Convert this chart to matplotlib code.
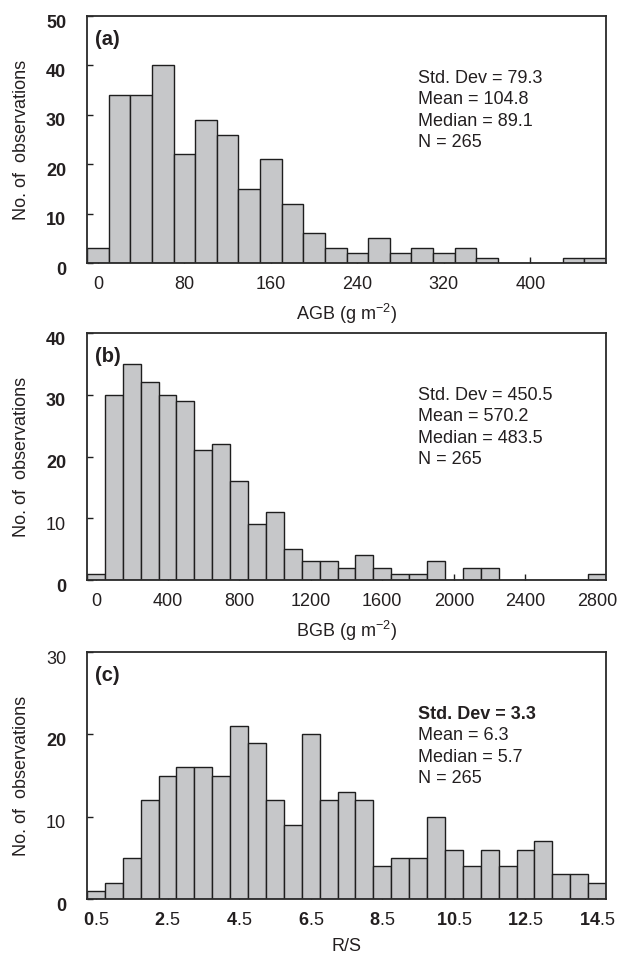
import numpy as np
import matplotlib.pyplot as plt
import matplotlib.transforms as mtransforms

# ------------------------------------------------------------
# Histogram data (counts per bin)
# ------------------------------------------------------------
agb_start, agb_width = 0, 20          # first bin centre, bin width (g m-2)
agb_counts = [3, 34, 34, 40, 22, 29, 26, 15, 21, 12, 6, 3,
              2, 5, 2, 3, 2, 3, 1, 0, 0, 0, 1, 1]
agb_ticks = [0, 80, 160, 240, 320, 400]
agb_stats = ["Std. Dev = 79.3", "Mean = 104.8", "Median = 89.1", "N = 265"]

bgb_start, bgb_width = 0, 100
bgb_counts = [1, 30, 35, 32, 30, 29, 21, 22, 16, 9, 11, 5, 3, 3,
              2, 4, 2, 1, 1, 3, 0, 2, 2, 0, 0, 0, 0, 0, 1]
bgb_ticks = [0, 400, 800, 1200, 1600, 2000, 2400, 2800]
bgb_stats = ["Std. Dev = 450.5", "Mean = 570.2", "Median = 483.5", "N = 265"]

rs_start, rs_width = 0.5, 0.5
rs_counts = [1, 2, 5, 12, 15, 16, 16, 15, 21, 19, 12, 9, 20, 12, 13,
             12, 4, 5, 5, 10, 6, 4, 6, 4, 6, 7, 3, 3, 2]
rs_ticks = [0.5, 2.5, 4.5, 6.5, 8.5, 10.5, 12.5, 14.5]
rs_tick_labels = [r'$\mathbf{0}$.5', r'$\mathbf{2}$.5', r'$\mathbf{4}$.5',
                  r'$\mathbf{6}$.5', r'$\mathbf{8}$.5', r'$\mathbf{10}$.5',
                  r'$\mathbf{12}$.5', r'$\mathbf{14}$.5']
rs_stats = ["Std. Dev = 3.3", "Mean = 6.3", "Median = 5.7", "N = 265"]

plt.rcParams['font.family'] = ['Liberation Sans', 'DejaVu Sans']
plt.rcParams['mathtext.fontset'] = 'custom'
plt.rcParams['mathtext.rm'] = 'Liberation Sans'
plt.rcParams['mathtext.it'] = 'Liberation Sans:italic'
plt.rcParams['mathtext.bf'] = 'Liberation Sans:bold'

TXT = '#231f20'
FILL = '#c6c7c9'
EDGE = '#1e1e1e'

W, H = 620, 955
fig = plt.figure(figsize=(W / 100, H / 100), dpi=100)
down = mtransforms.ScaledTranslation(0, -5 / 100, fig.dpi_scale_trans)


def px_axes(left, top, right, bottom):
    return fig.add_axes([left / W, 1 - bottom / H, (right - left) / W, (bottom - top) / H])


def panel(ax, start, width, counts, ticks, ymax, ystep, xlabel, tag, stats,
          bold_first=False, ybold=()):
    n = len(counts)
    centres = start + width * np.arange(n)
    ax.bar(centres, counts, width=width, color=FILL, edgecolor=EDGE,
           linewidth=1.0, zorder=2)
    ax.set_xlim(start - width / 2, start + width * (n - 0.5))
    ax.set_ylim(0, ymax)
    ax.set_xticks(ticks)
    ax.set_yticks(np.arange(0, ymax + 1, ystep))
    ax.tick_params(direction='in', length=4, width=1.0, color=EDGE,
                   labelsize=13, labelcolor=TXT, top=False, right=False)
    ax.tick_params(axis='x', pad=9)
    ax.tick_params(axis='y', pad=15)
    for lab, val in zip(ax.get_yticklabels(), ax.get_yticks()):
        lab.set_transform(lab.get_transform() + down)
        if int(val) in ybold:
            lab.set_fontweight('bold')
    for s in ax.spines.values():
        s.set_linewidth(1.3)
        s.set_color('#2a2a2a')
    ax.set_xlabel(xlabel, fontsize=13, color=TXT)
    ax.set_ylabel('No. of  observations', fontsize=13, color=TXT)
    h = ax.get_window_extent().height
    w = ax.get_window_extent().width
    ax.xaxis.set_label_coords(0.5, -39 / h)
    ax.yaxis.set_label_coords(-(87 - 30) / w, 0.5)
    ax.text(8 / w, 1 - 23 / h, tag, transform=ax.transAxes, fontsize=14.5,
            fontweight='bold', color=TXT, va='center', ha='left')
    for i, line in enumerate(stats):
        ax.text(0.638, 1 - (62 + 21.5 * i) / h, line, transform=ax.transAxes,
                fontsize=13, color=TXT, va='center', ha='left',
                fontweight='bold' if (bold_first and i == 0) else 'normal')


ax_a = px_axes(87, 16, 606, 263)
panel(ax_a, agb_start, agb_width, agb_counts, agb_ticks, 50, 10,
      'AGB (g m$^{-2}$)', '(a)', agb_stats, ybold=(0, 10, 20, 30, 40, 50))

ax_b = px_axes(87, 333, 606, 580)
panel(ax_b, bgb_start, bgb_width, bgb_counts, bgb_ticks, 40, 10,
      'BGB (g m$^{-2}$)', '(b)', bgb_stats, ybold=(0, 20, 30, 40))

ax_c = px_axes(87, 652, 606, 899)
panel(ax_c, rs_start, rs_width, rs_counts, rs_ticks, 30, 10,
      'R/S', '(c)', rs_stats, bold_first=True, ybold=(0, 20))
ax_c.set_xticklabels(rs_tick_labels)

fig.savefig('out.png', dpi=100)
